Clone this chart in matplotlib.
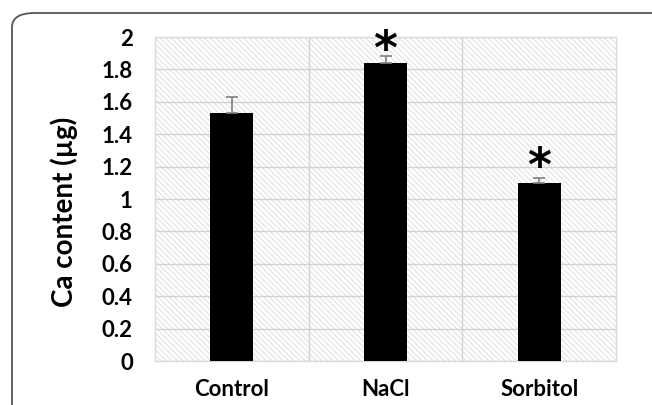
import matplotlib.pyplot as plt
from matplotlib.patches import Rectangle, FancyBboxPatch

categories = ["Control", "NaCl", "Sorbitol"]
ca_content = [1.53, 1.84, 1.10]
ca_error = [0.10, 0.04, 0.03]
star_y = [None, 1.91, 1.19]
y_ticks = [0, 0.2, 0.4, 0.6, 0.8, 1, 1.2, 1.4, 1.6, 1.8, 2]

plt.rcParams["font.family"] = ["Lato", "DejaVu Sans"]
plt.rcParams["hatch.color"] = "#dedede"
plt.rcParams["hatch.linewidth"] = 0.7

fig = plt.figure(figsize=(6.52, 4.05), dpi=100)
fig.patch.set_facecolor("white")

# rounded frame, open past the right and bottom edges
frame = FancyBboxPatch(
    (12 / 652, -60 / 405), 700 / 652, (405 - 13 + 60) / 405,
    boxstyle="round,pad=0,rounding_size=0.035",
    transform=fig.transFigure, fill=False, edgecolor="#555555", linewidth=1.3,
)
fig.patches.append(frame)

ax = fig.add_axes([155 / 652, 1 - 361 / 405, 461 / 652, 324 / 405])
ax.set_facecolor("white")
ax.add_patch(Rectangle((0, 0), 1, 1, transform=ax.transAxes, facecolor="white",
                       hatch="\\\\\\\\\\\\", edgecolor="#dedede", linewidth=0, zorder=0))

x = range(len(categories))
ax.bar(x, ca_content, width=0.28, color="black", zorder=3,
       yerr=[[0] * len(ca_error), ca_error], ecolor="#808080",
       error_kw=dict(capsize=4, elinewidth=1.2, capthick=1.2, zorder=4))

for i, sy in enumerate(star_y):
    if sy is not None:
        ax.text(i, sy, "*", ha="center", va="center", fontsize=33,
                fontweight="bold", family="DejaVu Sans", zorder=5)

ax.set_xlim(-0.5, 2.5)
ax.set_ylim(0, 2)
ax.set_yticks(y_ticks)
ax.set_yticklabels([f"{t:g}" for t in y_ticks], fontsize=16, fontweight="bold")
ax.set_xticks(list(x))
ax.set_xticklabels(categories, fontsize=16, fontweight="bold")
ax.set_xticks([0.5, 1.5], minor=True)
ax.tick_params(axis="both", which="both", length=0)
ax.tick_params(axis="y", pad=16)
ax.tick_params(axis="x", pad=13)

ax.grid(axis="y", color="#d2d2d2", linewidth=1, zorder=1)
ax.grid(axis="x", which="minor", color="#d2d2d2", linewidth=1, zorder=1)
for sp in ax.spines.values():
    sp.set_color("#dadada")
    sp.set_linewidth(1)
ax.set_axisbelow(True)

ax.set_ylabel("Ca content (µg)", fontsize=20, fontweight="bold")
ax.yaxis.set_label_coords(-0.167, 0.46)

fig.savefig("out.png", dpi=100)
